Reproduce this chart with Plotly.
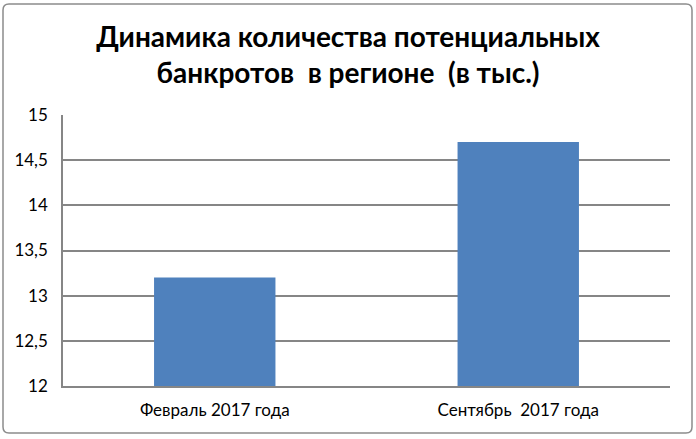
import plotly.graph_objects as go

categories = ["Февраль 2017 года", "Сентябрь  2017 года"]
values = [13.2, 14.7]
tick_vals = [12, 12.5, 13, 13.5, 14, 14.5, 15]
tick_text = ["12", "12,5", "13", "13,5", "14", "14,5", "15"]

W, H = 696, 439
ml, mr, mt, mb = 63, 26, 115, 53
pw, ph = W - ml - mr, H - mt - mb

fig = go.Figure()
fig.add_trace(go.Bar(x=categories, y=values, marker_color="#4f81bd",
                     marker_line_width=0, width=0.4))


def px2paper(x, y):
    return (x - ml) / pw, (H - mb - y) / ph


# rounded outer border
x0, y0 = px2paper(3, 4)
x1, y1 = px2paper(692, 433)
rx, ry = 6 / pw, 6 / ph
path = (f"M {x0+rx},{y0} L {x1-rx},{y0} Q {x1},{y0} {x1},{y0-ry} "
        f"L {x1},{y1+ry} Q {x1},{y1} {x1-rx},{y1} "
        f"L {x0+rx},{y1} Q {x0},{y1} {x0},{y1+ry} "
        f"L {x0},{y0-ry} Q {x0},{y0} {x0+rx},{y0} Z")
fig.add_shape(type="path", path=path, xref="paper", yref="paper",
              line=dict(color="#8c8c8c", width=1.5), layer="below")

fig.update_layout(
    width=W, height=H,
    margin=dict(l=ml, r=mr, t=mt, b=mb),
    paper_bgcolor="white", plot_bgcolor="white",
    font=dict(family="Lato", color="#000000"),
    showlegend=False,
    title=dict(text="Динамика количества потенциальных<br>банкротов  в регионе  (в тыс.)",
               x=0.5, xanchor="center", y=1 - 47 / H, yanchor="middle",
               font=dict(size=28, family="Lato", weight="bold")),
    bargap=0.6,
)
fig.update_xaxes(showline=True, linecolor="#868686", linewidth=1.5,
                 ticks="", tickfont=dict(size=17), showgrid=False,
                 ticklabelstandoff=8)
fig.update_yaxes(range=[12, 15], tickvals=tick_vals, ticktext=tick_text,
                 showgrid=True, gridcolor="#868686", gridwidth=1.5,
                 showline=True, linecolor="#868686", linewidth=1.5,
                 zeroline=False, tickfont=dict(size=17), ticks="",
                 ticklabelstandoff=10)

fig.write_html("out.html", config={"displayModeBar": False},
               post_script="document.body.style.margin='0px';")
